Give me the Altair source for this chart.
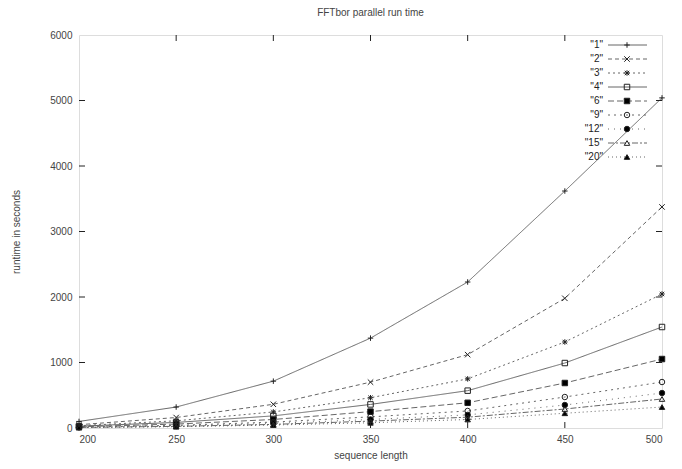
import altair as alt
import pandas as pd

lengths = [200, 250, 300, 350, 400, 450, 500]
series_names = ["1", "2", "3", "4", "6", "9", "12", "15", "20"]
runtimes = {
    "1":  [100, 320, 715, 1372, 2229, 3618, 5040],
    "2":  [50, 160, 362, 700, 1120, 1980, 3375],
    "3":  [35, 110, 245, 462, 750, 1313, 2046],
    "4":  [28, 85, 185, 360, 570, 992, 1542],
    "6":  [20, 60, 130, 250, 385, 687, 1053],
    "9":  [14, 40, 90, 170, 260, 473, 702],
    "12": [11, 30, 70, 130, 200, 351, 534],
    "15": [9, 25, 55, 105, 165, 290, 443],
    "20": [7, 20, 45, 80, 130, 225, 320],
}
y_ticks = [0, 1000, 2000, 3000, 4000, 5000, 6000]
x_ticks = [200, 250, 300, 350, 400, 450, 500]

dashes = [[1, 0], [4, 3], [2, 3], [1, 0], [6, 3], [2, 4], [1, 5], [6, 2, 2, 2], [1, 3]]
shapes = [
    "M-1,0L1,0M0,-1L0,1",
    "M-1,-1L1,1M-1,1L1,-1",
    "M-1,0L1,0M0,-1L0,1M-0.8,-0.8L0.8,0.8M-0.8,0.8L0.8,-0.8",
    "square", "square", "circle", "circle", "triangle-up", "triangle-up",
]
fills = ["transparent", "transparent", "transparent", "transparent", "#000",
         "transparent", "#000", "transparent", "#000"]

rows = []
for s in series_names:
    for x, v in zip(lengths, runtimes[s]):
        rows.append({"series": s, "length": x, "time": v})
df = pd.DataFrame(rows)
leg = pd.DataFrame({"series": series_names, "label": ['"%s"' % s for s in series_names]})

W, H = 583, 393
FONT = "Liberation Sans"
GRAY = "#444"

dash_scale = alt.Scale(domain=series_names, range=dashes)
shape_scale = alt.Scale(domain=series_names, range=shapes)
fill_scale = alt.Scale(domain=series_names, range=fills)

axis_style = dict(ticks=False, grid=False, domain=False, labelFont=FONT, labelFontSize=10,
                  labelColor=GRAY, titleFont=FONT, titleFontSize=10,
                  titleFontWeight="normal", titleColor=GRAY)
xenc = alt.X("length:Q", scale=alt.Scale(domain=[200, 500], nice=False),
             axis=alt.Axis(values=x_ticks, title="sequence length", format="d",
                           labelPadding=6, titlePadding=6, **axis_style))
yenc = alt.Y("time:Q", scale=alt.Scale(domain=[0, 6000], nice=False),
             axis=alt.Axis(values=y_ticks, title="runtime in seconds", format="d",
                           labelPadding=7, titlePadding=28, **axis_style))

base = alt.Chart(df)
lines = base.mark_line(strokeWidth=1, color="#666").encode(
    x=xenc, y=yenc,
    strokeDash=alt.StrokeDash("series:N", scale=dash_scale, legend=None),
    detail="series:N",
)
points = base.mark_point(size=30, strokeWidth=1, color="#222", opacity=1).encode(
    x="length:Q", y="time:Q",
    shape=alt.Shape("series:N", scale=shape_scale, legend=None),
    fill=alt.Fill("series:N", scale=fill_scale, legend=None),
)

# inward tick marks (mirrored)
yt = pd.DataFrame({"v": y_ticks[1:-1]})
xt = pd.DataFrame({"v": x_ticks[1:-1]})
ytick_l = alt.Chart(yt).mark_rule(color="#222").encode(
    y="v:Q", x=alt.value(0), x2=alt.value(6))
ytick_r = alt.Chart(yt).mark_rule(color="#222").encode(
    y="v:Q", x=alt.value(W - 6), x2=alt.value(W))
xtick_b = alt.Chart(xt).mark_rule(color="#222").encode(
    x="v:Q", y=alt.value(H - 6), y2=alt.value(H))
xtick_t = alt.Chart(xt).mark_rule(color="#222").encode(
    x="v:Q", y=alt.value(0), y2=alt.value(6))

# legend drawn inside the plot (gnuplot style)
ly = alt.Y("series:N", sort=series_names, axis=None,
           scale=alt.Scale(type="point", domain=series_names, range=[10, 122], padding=0))
leg_text = alt.Chart(leg).mark_text(align="right", baseline="middle", font=FONT,
                                    fontSize=10, color="#222").encode(
    y=ly, x=alt.value(524), text="label:N")
leg_line = alt.Chart(leg).mark_rule(strokeWidth=1, color="#666").encode(
    y=ly, x=alt.value(529), x2=alt.value(568),
    strokeDash=alt.StrokeDash("series:N", scale=dash_scale, legend=None))
leg_pt = alt.Chart(leg).mark_point(size=30, strokeWidth=1, color="#222", opacity=1).encode(
    y=ly, x=alt.value(548),
    shape=alt.Shape("series:N", scale=shape_scale, legend=None),
    fill=alt.Fill("series:N", scale=fill_scale, legend=None))

main = alt.layer(lines, points, ytick_l, ytick_r, xtick_b, xtick_t)
legend = alt.layer(leg_line, leg_pt, leg_text)

chart = alt.layer(main, legend).resolve_scale(y="independent").properties(
    width=W, height=H,
    title=alt.TitleParams("FFTbor parallel run time", fontSize=10, font=FONT,
                          fontWeight="normal", color=GRAY, offset=12),
    autosize=alt.AutoSizeParams(type="none"),
    padding={"left": 71, "top": 27, "right": 12, "bottom": 40},
).configure_view(stroke="#222", strokeWidth=1.5).configure(background="white")

chart.save("out.html", embed_options={"renderer": "svg", "actions": False})
